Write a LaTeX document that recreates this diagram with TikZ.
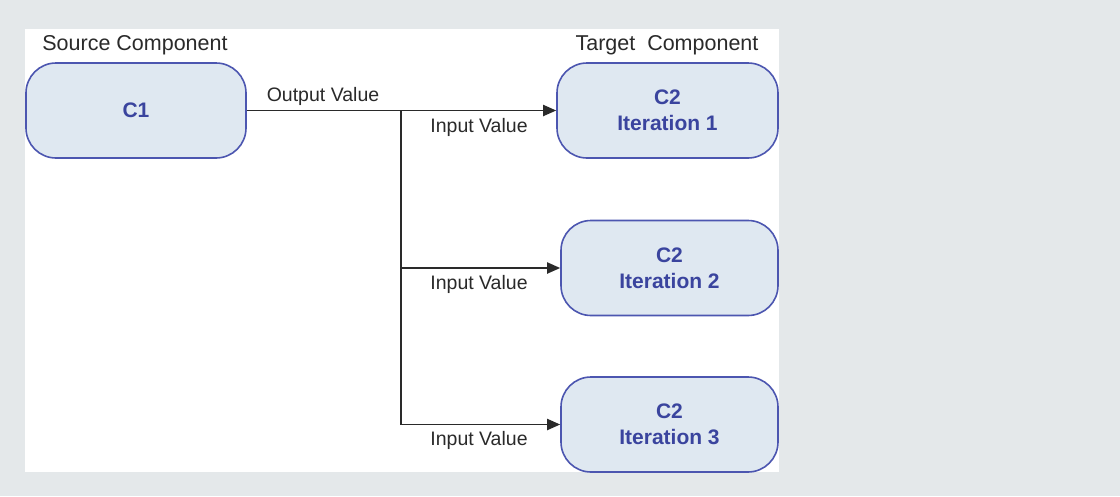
\documentclass[tikz,border=0pt]{standalone}
\usepackage{fontspec}
\setmainfont{Liberation Sans}
\usepackage{xcolor}
\usetikzlibrary{arrows.meta,positioning}

\definecolor{pagegray}{HTML}{E4E8EA}
\definecolor{boxfill}{HTML}{DFE8F1}
\definecolor{boxline}{HTML}{4C56B0}
\definecolor{boxtext}{HTML}{3A449E}
\definecolor{linegray}{HTML}{2A2A2A}

\begin{document}
\begin{tikzpicture}[x=1pt, y=-1pt,
  comp/.style={draw=boxline, fill=boxfill, line width=1.6pt, rounded corners=30pt,
    minimum width=220pt, minimum height=95pt, align=center, text=boxtext,
    font=\fontsize{21}{26}\selectfont\bfseries},
  heading/.style={text=linegray, font=\fontsize{21.5}{26}\selectfont, inner sep=0pt},
  portlabel/.style={text=linegray, font=\fontsize{19.5}{24}\selectfont, inner sep=0pt},
  conn/.style={draw=linegray, line width=1.9pt},
  arrowconn/.style={conn, -{Triangle[length=13pt,width=11pt]}}]
\fill[pagegray] (0,0) rectangle (1120,496);
\fill[white] (25,29) rectangle (779,472);
\useasboundingbox (0,0) rectangle (1120,496);

% components
\node[comp] (src) at (136,110.5) {C1};
\node[comp, minimum width=221pt] (it1) at (667.5,110.5) {C2\\Iteration 1};
\node[comp, minimum width=217pt] (it2) at (669.5,268) {C2\\Iteration 2};
\node[comp, minimum width=217pt] (it3) at (669.5,424.5) {C2\\Iteration 3};

\node[heading] (srchead) at (135,45) {Source Component};
\node[heading] (tgthead) at (667,45) {Target\ \ Component};

% connectors
\coordinate (split) at (401,110.5);
\draw[arrowconn] (src.east) -- (it1.west);
\draw[arrowconn] (split) |- (it3.west);
\draw[arrowconn] (split |- it2.west) -- (it2.west);

\node[portlabel] (outval) at (323,96) {Output Value};
\node[portlabel] (inval1) at (479,127) {Input Value};
\node[portlabel] (inval2) at (479,284) {Input Value};
\node[portlabel] (inval3) at (479,440) {Input Value};
\end{tikzpicture}
\end{document}
